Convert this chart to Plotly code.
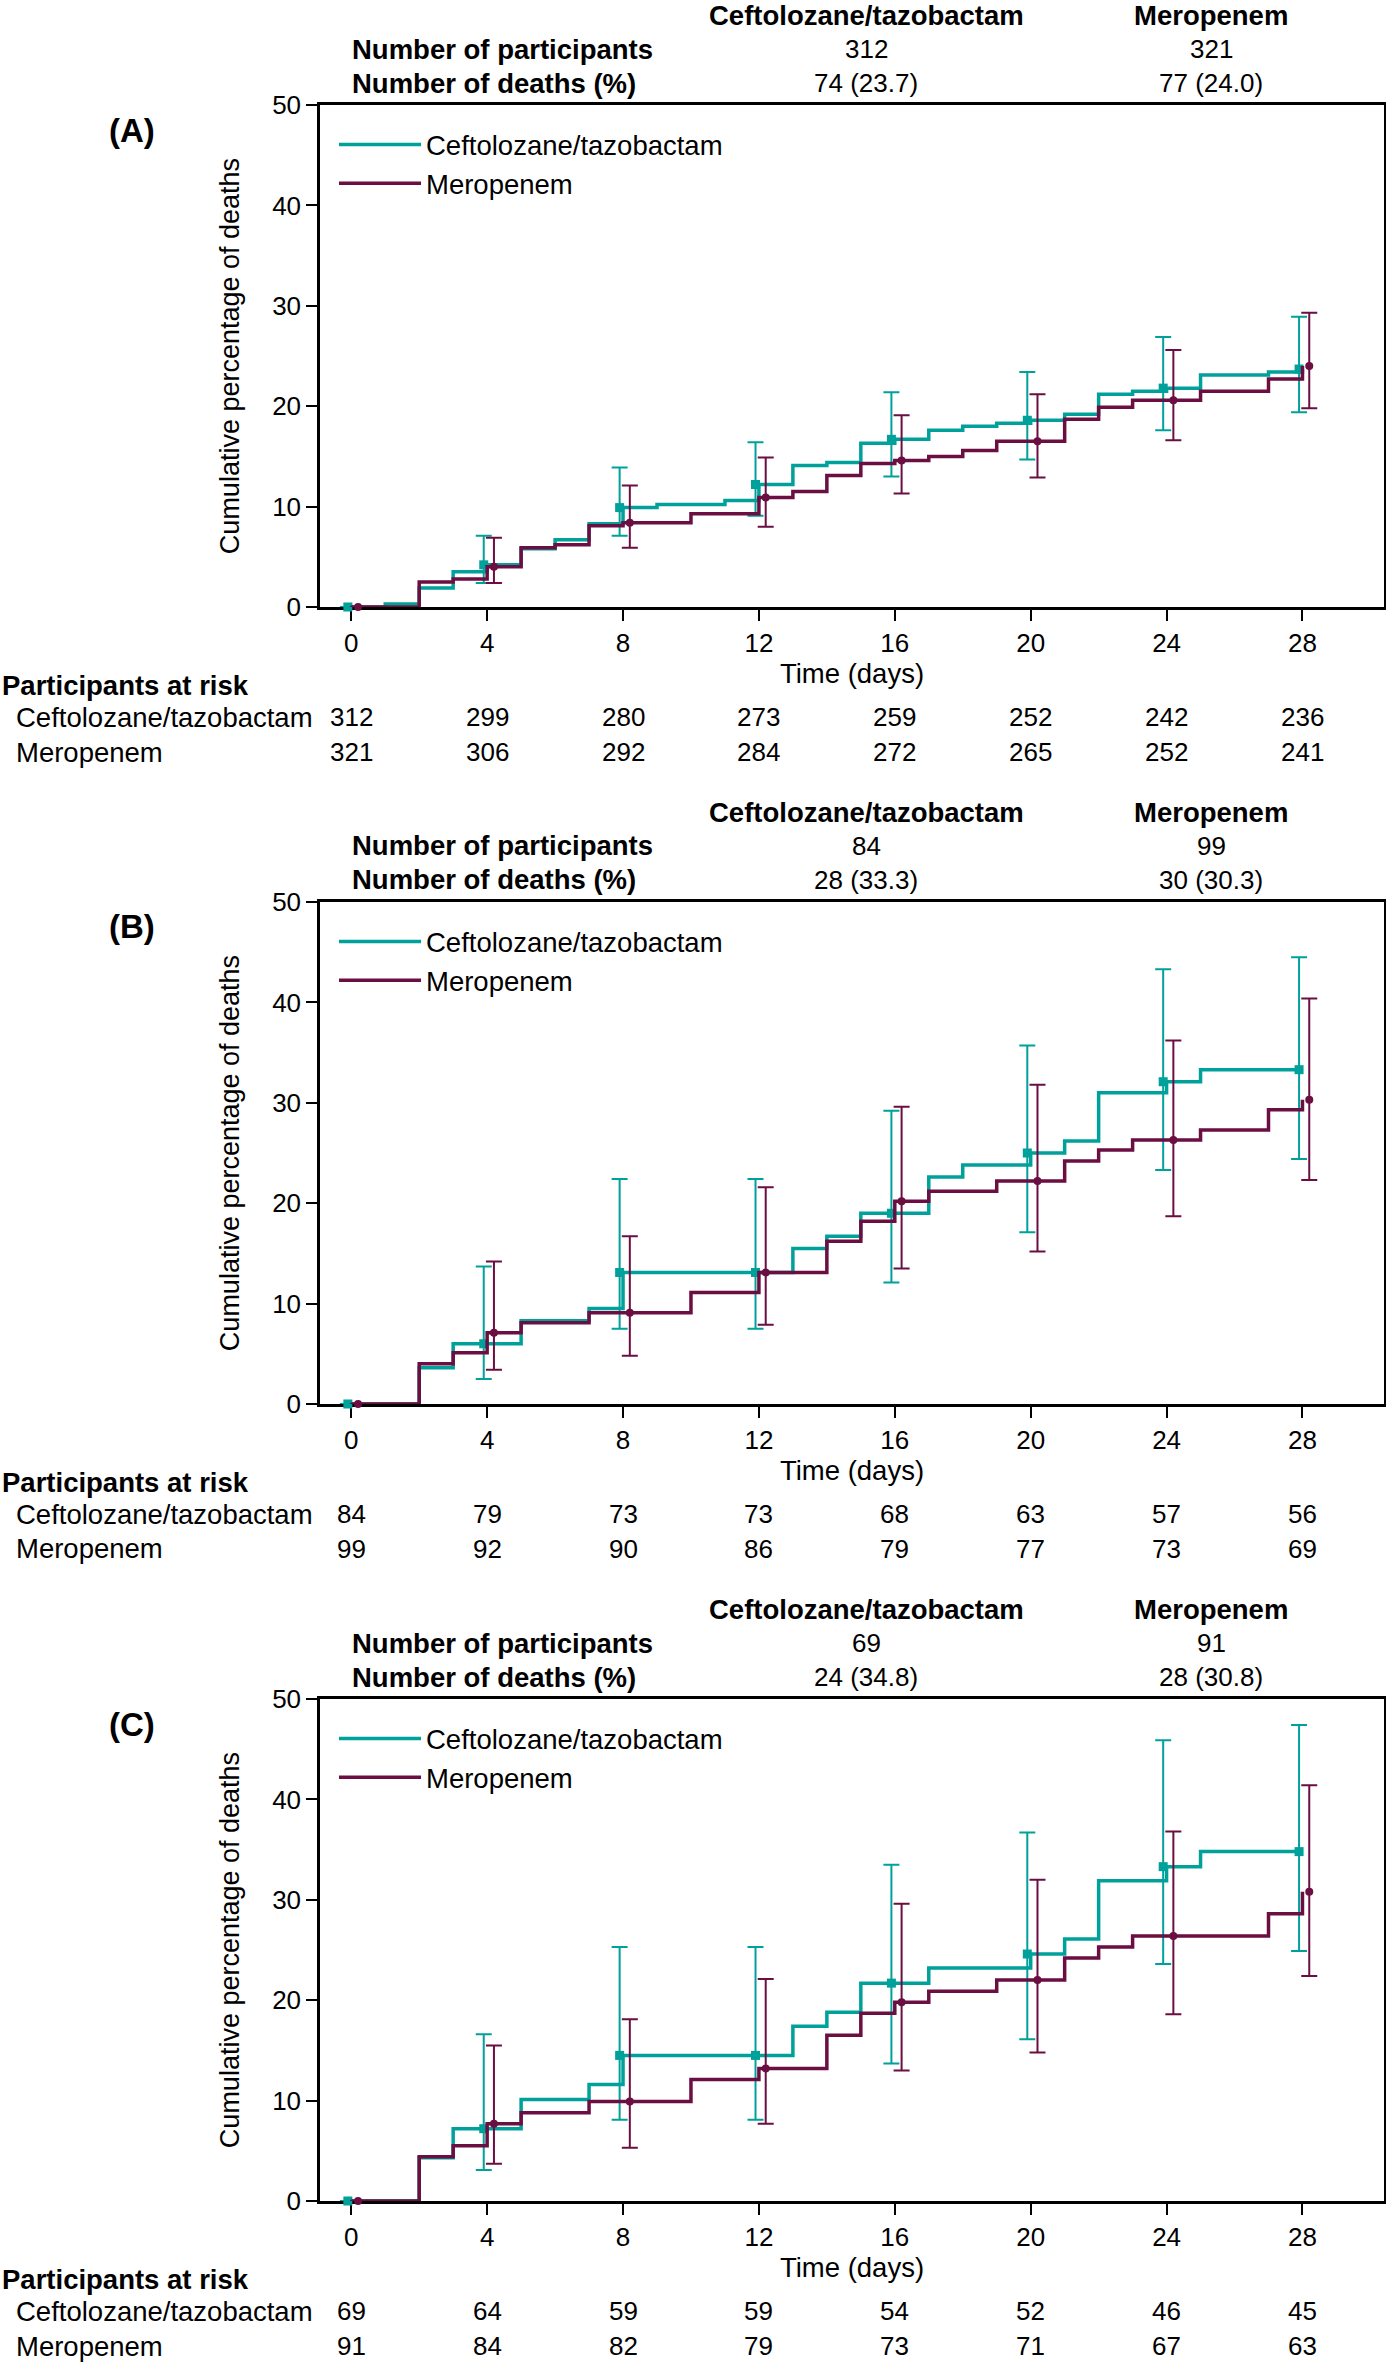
import plotly.graph_objects as go

W, H = 1386, 2362
TEAL = "#00a19b"
MAROON = "#6b0e41"
FONT = "Liberation Sans, Arial, sans-serif"
TXT = 27.5   # text labels
NUM = 26     # numbers / tick labels

# ---- data ----
panel_labels = ["(A)", "(B)", "(C)"]
arms = ["Ceftolozane/tazobactam", "Meropenem"]

n_participants_cef = [312, 84, 69]
n_participants_mer = [321, 99, 91]
deaths_cef = ["74 (23.7)", "28 (33.3)", "24 (34.8)"]
deaths_mer = ["77 (24.0)", "30 (30.3)", "28 (30.8)"]

# step curves: day of change, cumulative % of deaths
cef_a_days = [0, 1, 2, 3, 4, 5, 6, 7, 8, 9, 11, 12, 13, 14, 15, 16, 17, 18, 19, 20, 21, 22, 23, 24, 25, 27, 28]
cef_a_pct = [0, 0.3, 1.9, 3.5, 4.2, 5.8, 6.7, 8.3, 9.9, 10.2, 10.6, 12.2, 14.1, 14.4, 16.3, 16.7, 17.6, 18.0, 18.3, 18.6, 19.2, 21.2, 21.5, 21.8, 23.1, 23.4, 23.7]
mer_a_days = [0, 2, 3, 4, 5, 6, 7, 8, 10, 12, 13, 14, 15, 16, 17, 18, 19, 21, 22, 23, 25, 27, 28]
mer_a_pct = [0, 2.5, 2.8, 4.0, 5.9, 6.2, 8.1, 8.4, 9.3, 10.9, 11.5, 13.1, 14.3, 14.6, 15.0, 15.6, 16.5, 18.7, 19.9, 20.6, 21.5, 22.7, 24.0]

cef_b_days = [0, 2, 3, 5, 7, 8, 13, 14, 15, 17, 18, 20, 21, 22, 24, 25, 28]
cef_b_pct = [0, 3.6, 6.0, 8.3, 9.5, 13.1, 15.5, 16.7, 19.0, 22.6, 23.8, 25.0, 26.2, 31.0, 32.1, 33.3, 33.3]
mer_b_days = [0, 2, 3, 4, 5, 7, 10, 12, 14, 15, 16, 17, 19, 21, 22, 23, 25, 27, 28]
mer_b_pct = [0, 4.0, 5.1, 7.1, 8.1, 9.1, 11.1, 13.1, 16.2, 18.2, 20.2, 21.2, 22.2, 24.2, 25.3, 26.3, 27.3, 29.3, 30.3]

cef_c_days = [0, 2, 3, 5, 7, 8, 13, 14, 15, 17, 20, 21, 22, 24, 25, 28]
cef_c_pct = [0, 4.3, 7.2, 10.1, 11.6, 14.5, 17.4, 18.8, 21.7, 23.2, 24.6, 26.1, 31.9, 33.3, 34.8, 34.8]
mer_c_days = [0, 2, 3, 4, 5, 7, 10, 12, 14, 15, 16, 17, 19, 21, 22, 23, 27, 28]
mer_c_pct = [0, 4.4, 5.5, 7.7, 8.8, 9.9, 12.1, 13.2, 16.5, 18.7, 19.8, 20.9, 22.0, 24.2, 25.3, 26.4, 28.6, 30.8]

# 95% CI at the marked days
ci_days = [0, 4, 8, 12, 16, 20, 24, 28]
cef_a_lo = [0, 2.4, 7.1, 9.1, 13.0, 14.7, 17.6, 19.4]
cef_a_hi = [0, 7.1, 13.9, 16.4, 21.4, 23.4, 26.9, 28.9]
mer_a_lo = [0, 2.4, 5.9, 8.0, 11.3, 12.9, 16.6, 19.8]
mer_a_hi = [0, 6.9, 12.1, 14.9, 19.1, 21.2, 25.6, 29.3]
cef_b_lo = [0, 2.5, 7.5, 7.5, 12.1, 17.1, 23.3, 24.4]
cef_b_hi = [0, 13.7, 22.4, 22.4, 29.2, 35.7, 43.3, 44.5]
mer_b_lo = [0, 3.4, 4.8, 7.9, 13.5, 15.2, 18.7, 22.3]
mer_b_hi = [0, 14.2, 16.7, 21.6, 29.6, 31.8, 36.2, 40.4]
cef_c_lo = [0, 3.1, 8.1, 8.1, 13.7, 16.1, 23.6, 24.9]
cef_c_hi = [0, 16.6, 25.3, 25.3, 33.5, 36.7, 45.9, 47.4]
mer_c_lo = [0, 3.7, 5.3, 7.7, 13.0, 14.8, 18.6, 22.4]
mer_c_hi = [0, 15.5, 18.1, 22.1, 29.6, 32.0, 36.8, 41.4]

# participants at risk
risk_cef_a = [312, 299, 280, 273, 259, 252, 242, 236]
risk_mer_a = [321, 306, 292, 284, 272, 265, 252, 241]
risk_cef_b = [84, 79, 73, 73, 68, 63, 57, 56]
risk_mer_b = [99, 92, 90, 86, 79, 77, 73, 69]
risk_cef_c = [69, 64, 59, 59, 54, 52, 46, 45]
risk_mer_c = [91, 84, 82, 79, 73, 71, 67, 63]

panels = [
    dict(cef=(cef_a_days, cef_a_pct), mer=(mer_a_days, mer_a_pct),
         cef_ci=(cef_a_lo, cef_a_hi), mer_ci=(mer_a_lo, mer_a_hi),
         risk=(risk_cef_a, risk_mer_a)),
    dict(cef=(cef_b_days, cef_b_pct), mer=(mer_b_days, mer_b_pct),
         cef_ci=(cef_b_lo, cef_b_hi), mer_ci=(mer_b_lo, mer_b_hi),
         risk=(risk_cef_b, risk_mer_b)),
    dict(cef=(cef_c_days, cef_c_pct), mer=(mer_c_days, mer_c_pct),
         cef_ci=(cef_c_lo, cef_c_hi), mer_ci=(mer_c_lo, mer_c_hi),
         risk=(risk_cef_c, risk_mer_c)),
]


def value_at(days, pct, d):
    # step function value at day d
    v = 0
    for t, p in zip(days, pct):
        if t <= d:
            v = p
    return v


def py(pix):
    # pixel row -> paper y
    return 1 - pix / H


def px(pix):
    return pix / W


PANEL_STEP = 797
PLOT_TOP, PLOT_BOT = 105, 607
PLOT_LEFT, PLOT_RIGHT = 320, 1384

fig = go.Figure()
annotations = []
layout_axes = {}

for i, p in enumerate(panels):
    off = i * PANEL_STEP
    sfx = "" if i == 0 else str(i + 1)
    xref, yref = "x" + sfx, "y" + sfx
    leg = "legend" if i == 0 else "legend" + str(i + 1)

    for arm, key, ci_key, color, dodge, sym in [
        (arms[0], "cef", "cef_ci", TEAL, -0.1, "square"),
        (arms[1], "mer", "mer_ci", MAROON, 0.2, "circle"),
    ]:
        days, pct = p[key]
        lo, hi = p[ci_key]
        fig.add_trace(go.Scatter(
            x=days, y=pct, mode="lines", line=dict(color=color, width=3.5, shape="hv"),
            name=arm, xaxis=xref, yaxis=yref, legend=leg, cliponaxis=False,
        ))
        mval = [value_at(days, pct, d) for d in ci_days]
        fig.add_trace(go.Scatter(
            x=[d + dodge for d in ci_days], y=mval, mode="markers",
            marker=dict(color=color, size=9 if sym == "square" else 8, symbol=sym),
            error_y=dict(type="data", symmetric=False,
                         array=[h - v for h, v in zip(hi, mval)],
                         arrayminus=[v - l for l, v in zip(lo, mval)],
                         color=color, thickness=2, width=8),
            showlegend=False, xaxis=xref, yaxis=yref, cliponaxis=False,
        ))

    top, bot = PLOT_TOP + off, PLOT_BOT + off
    layout_axes["xaxis" + sfx] = dict(
        domain=[px(PLOT_LEFT), px(PLOT_RIGHT)], anchor=yref, range=[-0.92, 30.4],
        tickvals=ci_days, ticks="outside", ticklen=11, tickwidth=2, tickcolor="black",
        showline=True, linewidth=2.5, linecolor="black", mirror=True, showgrid=False,
        zeroline=False, layer="below traces", automargin=False,
        tickfont=dict(size=NUM, color="black", family=FONT),
        title=dict(text="Time (days)", font=dict(size=TXT, color="black", family=FONT), standoff=2),
    )
    layout_axes["yaxis" + sfx] = dict(
        domain=[py(bot), py(top)], anchor=xref, range=[0, 50],
        tickvals=[0, 10, 20, 30, 40, 50], ticks="outside", ticklen=11, tickwidth=2,
        tickcolor="black", showline=True, linewidth=2.5, linecolor="black", mirror=True,
        showgrid=False, zeroline=False, layer="below traces", automargin=False,
        tickfont=dict(size=NUM, color="black", family=FONT),
        title=dict(text="Cumulative percentage of deaths",
                   font=dict(size=27, color="black", family=FONT), standoff=25),
    )
    layout_axes[leg] = dict(
        x=px(334), y=py(120 + off), xanchor="left", yanchor="top",
        bgcolor="rgba(0,0,0,0)", itemwidth=82,
        font=dict(size=TXT, color="black", family=FONT),
    )

    # header table
    hdr = [(15, arms[0], arms[1], True),
           (49, str(n_participants_cef[i]), str(n_participants_mer[i]), False),
           (83, deaths_cef[i], deaths_mer[i], False)]
    for yy, a, b, bold in hdr:
        for xx, txt in [(866, a), (1211, b)]:
            annotations.append(dict(
                x=px(xx), y=py(yy + off), xref="paper", yref="paper", text=f"<b>{txt}</b>" if bold else txt,
                showarrow=False, xanchor="center", yanchor="middle",
                font=dict(size=TXT if bold else NUM, color="black", family=FONT)))
    for yy, txt in [(49, "Number of participants"), (83, "Number of deaths (%)")]:
        annotations.append(dict(
            x=px(350), y=py(yy + off), xref="paper", yref="paper", text=f"<b>{txt}</b>",
            showarrow=False, xanchor="left", yanchor="middle",
            font=dict(size=TXT, color="black", family=FONT)))

    # panel letter
    annotations.append(dict(
        x=px(132), y=py(130 + off), xref="paper", yref="paper", text=f"<b>{panel_labels[i]}</b>",
        showarrow=False, xanchor="center", yanchor="middle",
        font=dict(size=33, color="black", family=FONT)))

    # participants at risk
    annotations.append(dict(
        x=0, y=py(685 + off), xref="paper", yref="paper", text="<b>Participants at risk</b>",
        showarrow=False, xanchor="left", yanchor="middle",
        font=dict(size=TXT, color="black", family=FONT)))
    for yy, arm, counts in [(717, arms[0], p["risk"][0]), (752, arms[1], p["risk"][1])]:
        annotations.append(dict(
            x=px(14), y=py(yy + off), xref="paper", yref="paper", text=arm,
            showarrow=False, xanchor="left", yanchor="middle",
            font=dict(size=TXT, color="black", family=FONT)))
        for d, n in zip(ci_days, counts):
            annotations.append(dict(
                x=d, y=py(yy + off), xref=xref, yref="paper", text=str(n),
                showarrow=False, xanchor="center", yanchor="middle",
                font=dict(size=NUM, color="black", family=FONT)))

fig.update_layout(
    template="none",
    width=W, height=H, margin=dict(l=0, r=0, t=0, b=0, autoexpand=False),
    paper_bgcolor="white", plot_bgcolor="white",
    font=dict(family=FONT, color="black"),
    annotations=annotations, **layout_axes,
)

# drop the browser's default page margin so the figure sits at the window corner
fig.write_html("out.html", config={"displayModeBar": False},
               post_script="document.body.style.margin='0px';")
